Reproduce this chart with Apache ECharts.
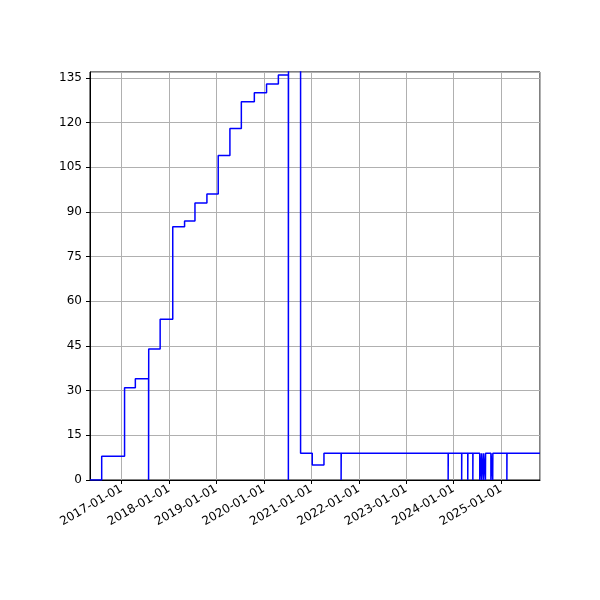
<!DOCTYPE html>
<html>
<head>
  <meta charset="utf-8">
  <script src="https://cdn.jsdelivr.net/npm/echarts@6/dist/echarts.min.js"></script>
</head>
<body style="margin:0">
<div id="main" style="width:600px;height:600px"></div>
<script type="text/javascript">
  // change points: value holds from date until the next date
  var stepDates = ['2016-05-03', '2016-08-01', '2017-01-24', '2017-04-17', '2017-07-28', '2017-10-25',
    '2018-01-10', '2018-01-30', '2018-04-10', '2018-05-01', '2018-07-20', '2018-10-20', '2019-01-15',
    '2019-04-15', '2019-07-12', '2019-10-20', '2020-01-22', '2020-04-22', '2020-07-08', '2020-10-10',
    '2021-01-08', '2021-04-08', '2025-10-27'];
  var stepValues = [0, 8, 31, 34, 44, 54, 54, 85, 85, 87, 93, 96, 109, 118, 127, 130, 133, 136, 150, 9, 5, 9, 9];
  // short drops to zero
  var dipDates = ['2017-07-28', '2020-07-08', '2021-08-18', '2023-11-20', '2024-03-03', '2024-04-19',
    '2024-05-28', '2024-07-20', '2024-08-03', '2024-08-18', '2024-09-02', '2024-10-14', '2024-10-28', '2025-02-14'];
  var yTicks = [0, 15, 30, 45, 60, 75, 90, 105, 120, 135];

  var DAY = 86400000;
  function valueAt(t) {
    var v = 0;
    for (var i = 0; i < stepDates.length; i++) {
      if (Date.parse(stepDates[i]) <= t) v = stepValues[i];
    }
    return v;
  }
  var pts = [];
  for (var i = 0; i < stepDates.length; i++) pts.push([Date.parse(stepDates[i]), stepValues[i]]);
  for (var j = 0; j < dipDates.length; j++) {
    var t = Date.parse(dipDates[j]);
    pts = pts.filter(function (p) { return p[0] !== t; });
    pts.push([t, 0]);
    pts.push([t + DAY, valueAt(t)]);
  }
  pts.sort(function (a, b) { return a[0] - b[0]; });

  var myChart = echarts.init(document.getElementById('main'));
  var option = {
    animation: false,
    textStyle: { fontFamily: 'DejaVu Sans' },
    grid: { left: 90, right: 60, top: 72, bottom: 120 },
    xAxis: {
      type: 'time',
      min: Date.parse(stepDates[0]),
      max: Date.parse(stepDates[stepDates.length - 1]),
      minInterval: 365 * DAY,
      maxInterval: 366 * DAY,
      axisLine: { onZero: false, lineStyle: { color: '#000' } },
      axisTick: { show: true, length: 4, lineStyle: { color: '#000' } },
      axisLabel: { rotate: 30, color: '#000', fontSize: 12, formatter: '{yyyy}-{MM}-{dd}', hideOverlap: false },
      splitLine: { show: true, lineStyle: { color: '#b0b0b0' } }
    },
    yAxis: {
      type: 'value', min: 0, max: 137, interval: 15,
      axisLine: { show: true, lineStyle: { color: '#000' } },
      axisTick: { show: true, length: 4, lineStyle: { color: '#000' } },
      axisLabel: { color: '#000', fontSize: 12, showMaxLabel: false,
        formatter: function (v) { return yTicks.indexOf(v) >= 0 ? v : ''; } },
      splitLine: { show: true, lineStyle: { color: '#b0b0b0' } }
    },
    series: [{
      type: 'line', step: 'end', data: pts, showSymbol: false, clip: true,
      lineStyle: { color: '#0000ff', width: 1.5 }
    }],
    graphic: [{ type: 'rect', shape: { x: 90, y: 72, width: 450, height: 408 },
      style: { fill: 'none', stroke: '#000', lineWidth: 1 }, silent: true }]
  };
  myChart.setOption(option);
</script>
</body>
</html>
